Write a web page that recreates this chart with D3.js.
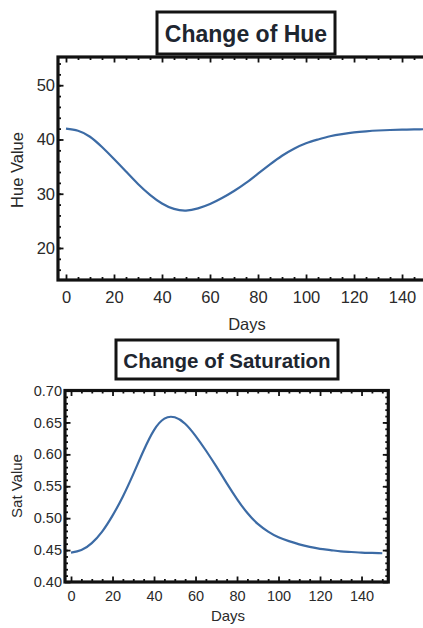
<!DOCTYPE html>
<html>
<head>
<meta charset="utf-8">
<script src="https://cdn.jsdelivr.net/npm/d3@7"></script>
<style>
  body { margin: 0; background: #fff; }
  text { font-family: "Liberation Sans", Arial, sans-serif; }
</style>
</head>
<body>
<svg id="chart" width="423" height="628"></svg>
<script>
// values, one point every 5 days
var days = [0, 5, 10, 15, 20, 25, 30, 35, 40, 45, 50, 55, 60, 65, 70, 75,
            80, 85, 90, 95, 100, 105, 110, 115, 120, 125, 130, 135, 140, 145, 150];
var hueValues = [42.0, 41.6, 40.5, 38.6, 36.4, 34.1, 31.8, 29.8, 28.2, 27.2, 26.9,
                 27.3, 28.1, 29.2, 30.5, 32.0, 33.7, 35.4, 37.0, 38.3, 39.3, 40.0,
                 40.6, 41.0, 41.3, 41.5, 41.65, 41.75, 41.8, 41.85, 41.9];
var satValues = [0.446, 0.450, 0.461, 0.479, 0.504, 0.534, 0.569, 0.606, 0.638, 0.656,
                 0.658, 0.648, 0.629, 0.606, 0.581, 0.555, 0.530, 0.508, 0.491, 0.479,
                 0.470, 0.464, 0.459, 0.455, 0.452, 0.450, 0.448, 0.447, 0.446, 0.4455, 0.445];
var dayTicks = [0, 20, 40, 60, 80, 100, 120, 140];
var hueTicks = [20, 30, 40, 50];
var satTicks = [0.40, 0.45, 0.50, 0.55, 0.60, 0.65, 0.70];

var svg = d3.select('#chart');

function inwardTicks(g, axis, values, size, fmt) {
  g.call(axis.tickValues(values).tickSize(-size).tickFormat(fmt || ''))
    .call(function(a) { a.select('.domain').remove(); });
  g.selectAll('.tick line').attr('stroke', '#111').attr('stroke-width', 1.8);
}

function drawPanel(c) {
  var x = d3.scaleLinear().domain(c.xDomain).range([c.left, c.right]);
  var y = d3.scaleLinear().domain(c.yDomain).range([c.bottom, c.top]);
  var minorX = d3.range(0, 151, 5).filter(function(d) { return d % 20 !== 0; });
  var minorY = d3.range(c.minorY[0], c.minorY[1] + 1e-9, c.minorY[2]);

  var panel = svg.append('g');

  // curve
  var line = d3.line()
    .x(function(d, i) { return x(days[i]); })
    .y(function(d) { return y(d); })
    .curve(d3.curveNatural);
  panel.append('path')
    .datum(c.values)
    .attr('d', line)
    .attr('fill', 'none')
    .attr('stroke', '#3c6ba5')
    .attr('stroke-width', 2.2);

  // frame ticks, inward on all four sides
  var bottom = panel.append('g').attr('transform', 'translate(0,' + c.bottom + ')');
  inwardTicks(bottom.append('g'), d3.axisBottom(x), minorX, 3);
  var bMajor = bottom.append('g');
  inwardTicks(bMajor, d3.axisBottom(x), dayTicks, 5.5, d3.format('d'));
  bMajor.selectAll('.tick text')
    .attr('y', c.xLabelDy).attr('dy', 0)
    .attr('fill', '#2a2a2a').style('font-size', c.tickFont + 'px');

  var topAx = panel.append('g').attr('transform', 'translate(0,' + c.top + ')');
  inwardTicks(topAx.append('g'), d3.axisTop(x), minorX, 3);
  inwardTicks(topAx.append('g'), d3.axisTop(x), dayTicks, 5.5);

  var leftAx = panel.append('g').attr('transform', 'translate(' + c.left + ',0)');
  inwardTicks(leftAx.append('g'), d3.axisLeft(y), minorY, 3);
  var lMajor = leftAx.append('g');
  inwardTicks(lMajor, d3.axisLeft(y), c.yTicks, 5.5, c.yFormat);
  lMajor.selectAll('.tick text')
    .attr('x', -c.yLabelDx)
    .attr('fill', '#2a2a2a').style('font-size', c.tickFont + 'px');

  var rightAx = panel.append('g').attr('transform', 'translate(' + c.right + ',0)');
  inwardTicks(rightAx.append('g'), d3.axisRight(y), minorY, 3);
  inwardTicks(rightAx.append('g'), d3.axisRight(y), c.yTicks, 5.5);

  panel.append('rect')
    .attr('x', c.left).attr('y', c.top)
    .attr('width', c.right - c.left).attr('height', c.bottom - c.top)
    .attr('fill', 'none').attr('stroke', '#111').attr('stroke-width', 3.2);

  // axis titles
  panel.append('text')
    .attr('x', c.xTitle[0]).attr('y', c.xTitle[1])
    .attr('text-anchor', 'middle')
    .attr('fill', '#2a2a2a')
    .style('font-size', c.labelFont + 'px')
    .text('Days');
  panel.append('text')
    .attr('transform', 'translate(' + c.yTitle[0] + ',' + c.yTitle[1] + ') rotate(-90)')
    .attr('text-anchor', 'middle')
    .attr('dy', '0.35em')
    .attr('fill', '#2a2a2a')
    .style('font-size', c.labelFont + 'px')
    .text(c.yLabel);

  // boxed title
  var b = c.titleBox;
  panel.append('rect')
    .attr('x', b[0]).attr('y', b[1]).attr('width', b[2] - b[0]).attr('height', b[3] - b[1])
    .attr('fill', '#fff').attr('stroke', '#141414').attr('stroke-width', 3);
  panel.append('text')
    .attr('x', (b[0] + b[2]) / 2).attr('y', c.titleBase)
    .attr('text-anchor', 'middle')
    .attr('fill', '#1e2630')
    .style('font-size', c.titleFont + 'px')
    .style('font-weight', 'bold')
    .text(c.title);
}

drawPanel({
  title: 'Change of Hue', titleBox: [157, 12, 335, 54], titleBase: 41.5, titleFont: 23,
  yLabel: 'Hue Value', values: hueValues,
  left: 58, right: 433, top: 57, bottom: 280,
  xDomain: [-3.33, 152.9], yDomain: [14.1, 55.2],
  yTicks: hueTicks, yFormat: d3.format('d'), minorY: [16, 54, 2],
  tickFont: 16.5, labelFont: 16.5, xLabelDy: 23, yLabelDx: 3,
  xTitle: [247, 330], yTitle: [17, 170]
});

drawPanel({
  title: 'Change of Saturation', titleBox: [116, 340, 338, 379], titleBase: 368, titleFont: 20.5,
  yLabel: 'Sat Value', values: satValues,
  left: 65, right: 388.3, top: 390.5, bottom: 582,
  xDomain: [-2.9, 152.9], yDomain: [0.40, 0.70],
  yTicks: satTicks, yFormat: d3.format('.2f'), minorY: [0.41, 0.69, 0.01],
  tickFont: 14.5, labelFont: 15, xLabelDy: 19, yLabelDx: 3,
  xTitle: [228, 621], yTitle: [17, 486]
});
</script>
</body>
</html>
